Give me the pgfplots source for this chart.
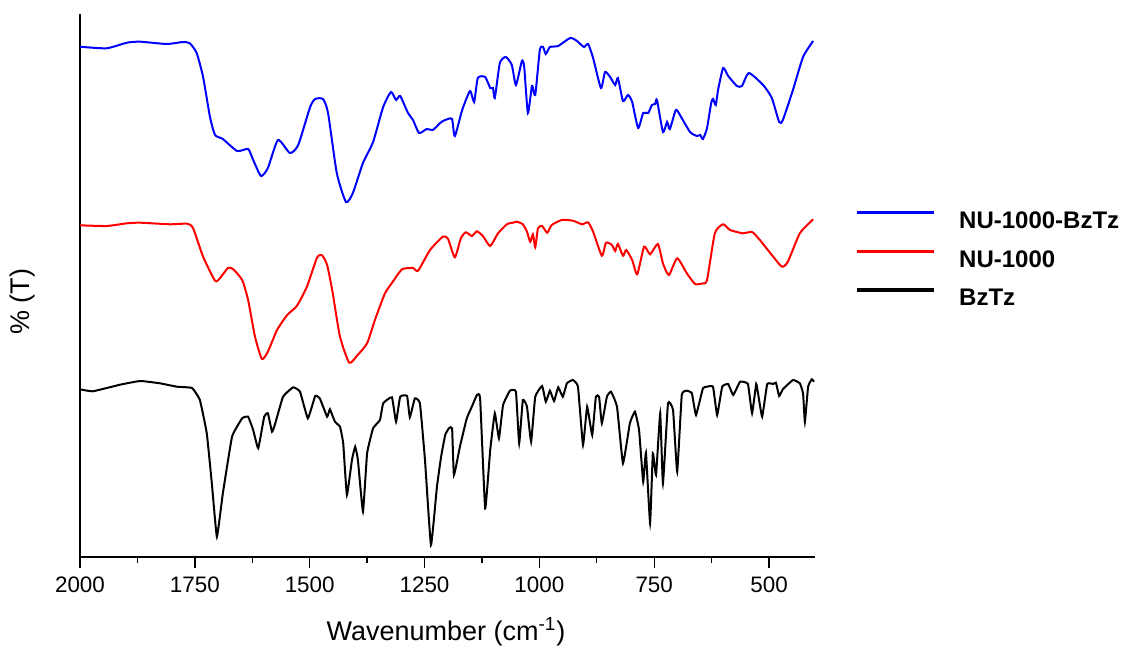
\documentclass[border=0pt]{standalone}
\usepackage{fontspec}
\setmainfont{Liberation Sans}
\usepackage{pgfplots}
\usepackage{pgfplotstable}
\pgfplotsset{compat=1.18}

\pgfplotstableread{
w y
2000 510.3
1942 508.7
1898 514.3
1869 515.3
1811 513
1776 515
1761 513.7
1746 504
1732 480
1717 440
1706 422
1689 418
1658 406
1634 408
1623 397
1606 381
1591 389
1569 417
1543 404
1525 412
1499 450
1488 458
1471 458
1460 444
1441 384
1421 355
1406 364
1384 394
1362 415
1340 450
1323 465
1312 457
1303 461
1286 444
1275 437
1262 424
1245 428
1232 427
1216 434
1210 436
1199 438
1190 438
1184 421
1168 447
1151 466
1142 455
1134 479
1118 480
1107 469
1101 469
1097 459
1086 494
1073 500
1060 492
1051 472
1038 496
1033 490
1025 444
1016 471
1009 462
999 507
992 510
986 503
977 510
959 511
933 519
918 516
903 510
894 513
883 499
866 469
857 485
846 480
835 472
829 479
818 456
807 462
798 455
785 429
774 444
763 444
755 452
748 453
744 457
731 425
722 435
716 428
703 447
694 442
672 425
657 421
650 422
644 418
635 429
626 454
622 458
616 452
611 467
600 489
589 481
570 471
559 471
544 484
513 472
494 459
478 435
470 437
448 467
426 500
404 516
}\bluedata

\pgfplotstableread{
w y
2000 331.7
1942 331
1898 333.7
1869 334.3
1804 332.7
1767 333.3
1754 329
1732 300.3
1706 276.3
1695 279
1678 289
1667 288
1647 277
1634 257
1619 220.3
1604 198
1591 205.3
1571 227
1549 242
1528 251
1506 270.3
1484 299.3
1473 301.7
1462 292
1451 267
1434 220.3
1414 194.3
1397 201.3
1375 213.7
1358 237
1336 263.7
1319 275.3
1299 287.7
1275 289
1264 286.3
1238 307
1210 320.3
1199 318.3
1184 299.7
1171 318.7
1160 324.7
1147 321
1136 325.7
1123 321
1107 311
1090 323.7
1070 333
1057 334.3
1049 335.3
1036 332.7
1027 325.3
1020 315.3
1014 322.7
1009 309.7
1003 328.7
994 331
983 324.3
973 332
951 337
927 336.3
907 332.7
894 334.7
883 325.3
864 301.3
855 314.3
842 312
835 306
829 313
818 301.3
811 307
798 297
787 282.7
772 310.3
759 302.7
742 313
731 293.7
718 282
700 298.7
679 283.7
661 273
644 273.7
635 277
618 323.7
600 332.7
585 327
557 323.7
537 325
520 317
491 300.3
472 290.3
459 295.3
433 323.7
404 337.7
}\reddata

\pgfplotstableread{
w y
2000 167.7
1972 165.7
1913 172.3
1869 176
1826 173.7
1789 170.3
1756 169
1739 157
1724 123.7
1713 73.7
1702 20.3
1689 63.7
1669 120.3
1647 138.7
1634 140.3
1623 127
1612 108.7
1599 140.3
1591 143.7
1582 125.3
1576 132
1558 160.3
1536 169.7
1521 165.3
1504 138.7
1488 161
1478 158.7
1462 140.3
1456 147.7
1445 135.3
1434 130.3
1427 113.7
1419 62
1408 97
1401 110.3
1395 97
1384 45.3
1375 103.7
1362 128.7
1347 137
1340 153.7
1321 159.7
1312 135.3
1303 160.3
1288 161
1282 139.7
1271 158.7
1260 153.7
1249 97
1236 12
1223 70
1214 100
1205 122
1197 128.7
1190 128.7
1186 82
1173 110.3
1158 138.7
1147 150.3
1136 162
1129 158.7
1118 48.7
1107 107
1097 143.7
1088 118.7
1079 152
1064 166.3
1051 165.3
1044 113.7
1036 157
1027 150.3
1018 115.3
1009 160.3
994 171
986 155.3
977 166.3
968 156
959 169.7
949 160.3
940 173.7
927 177
916 170.3
905 112
896 150.3
885 122
877 160.3
870 160.3
864 133.7
853 160.3
844 165.3
831 150.3
818 93.7
803 133.7
792 145.3
783 127
774 75.3
768 104.3
759 33.7
753 103.7
746 82
737 143.7
731 73.7
720 153.7
709 147
700 85.3
690 162
679 166.3
668 163.7
659 142
644 168.7
635 170.3
622 170.3
613 142
602 170.3
589 173
578 162
563 175.3
546 173
537 143.7
528 173
524 163.7
515 140.3
504 173
491 173
485 174.3
478 161
470 167.7
448 177
433 173.7
426 163.7
422 135.3
415 170.3
407 177.7
402 175.3
}\blackdata

\begin{document}
\begin{tikzpicture}
\path[use as bounding box] (-40pt,-45.5pt) rectangle (524.5pt,278.5pt);
\begin{axis}[
  at={(0pt,0pt)}, anchor=south west,
  width=367.5pt, height=271.5pt, scale only axis,
  x dir=reverse,
  xmin=400, xmax=2000,
  ymin=0, ymax=543,
  axis x line*=bottom, axis y line*=left,
  axis line style={line width=1pt, black},
  xtick={500,750,1000,1250,1500,1750,2000},
  minor xtick={625,875,1125,1375,1625,1875},
  ytick=\empty,
  tick align=outside,
  major tick length=5.3pt,
  minor tick length=3pt,
  every tick/.style={black, line width=0.7pt},
  tick label style={font=\fontsize{11.2}{13}\selectfont},
  xticklabel style={yshift=-1pt},
  /pgf/number format/assume math mode=true,
  /pgf/number format/set thousands separator={},
  xlabel={Wavenumber (cm\textsuperscript{-1})},
  ylabel={\% (T)},
  label style={font=\fontsize{13.5}{16}\selectfont},
  xlabel style={at={(axis description cs:0.498,-0.1376)}, anchor=center},
  ylabel style={at={(axis description cs:-0.0776,0.47)}, anchor=center},
  legend style={draw=none, fill=none, at={(axis description cs:1.0544,0.5469)}, anchor=west,
    inner sep=0pt, outer sep=0pt, row sep=5.5pt, column sep=10pt,
    font=\fontsize{12}{14}\selectfont\bfseries},
  legend cell align=left,
  legend image code/.code={\draw[#1, line width=1.6pt] (0pt,4.4pt) -- (38.5pt,4.4pt);},
]
\addplot[blue, line width=1pt, smooth, tension=0.35] table[x=w,y=y] {\bluedata};
\addlegendentry{NU-1000-BzTz}
\addplot[red, line width=1pt, smooth, tension=0.35] table[x=w,y=y] {\reddata};
\addlegendentry{NU-1000}
\addplot[black, line width=1pt, smooth, tension=0.2] table[x=w,y=y] {\blackdata};
\addlegendentry{BzTz}
\end{axis}
\end{tikzpicture}
\end{document}
